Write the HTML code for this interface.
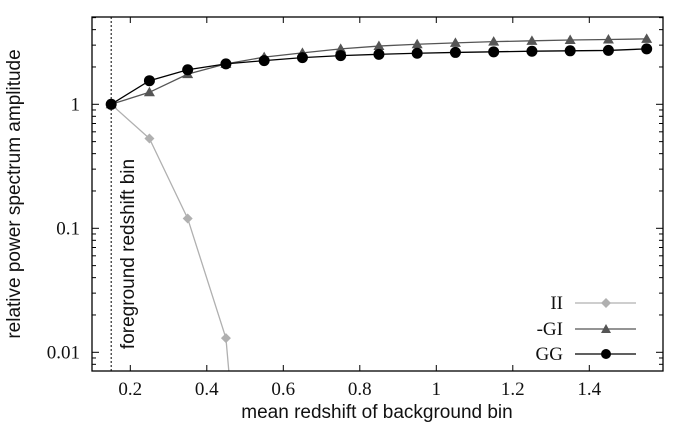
<!DOCTYPE html>
<html><head><meta charset="utf-8"><style>
html,body{margin:0;padding:0;width:673px;height:429px;overflow:hidden;background:#fff}
svg{display:block}
.tick{font-family:"Liberation Serif",serif;font-size:19px;fill:#111}
.lab{font-family:"Liberation Sans",sans-serif;font-size:19px;fill:#111}
</style></head><body>
<svg id="chart" width="673" height="429" viewBox="0 0 673 429" xmlns="http://www.w3.org/2000/svg">
<g id="marks"></g>
<g id="axes"></g>
</svg>
<script>
const zValues=[0.15,0.25,0.35,0.45,0.55,0.65,0.75,0.85,0.95,1.05,1.15,1.25,1.35,1.45,1.55];
const ggValues=[1,1.55,1.9,2.12,2.25,2.38,2.47,2.53,2.58,2.62,2.65,2.68,2.7,2.72,2.8];
const giValues=[1,1.25,1.75,2.12,2.4,2.6,2.8,2.95,3.05,3.13,3.2,3.25,3.3,3.33,3.37];
const iiZ=[0.15,0.25,0.35,0.45,0.55];
const iiValues=[1,0.53,0.12,0.013,0.000004];
const xTicks=[0.2,0.4,0.6,0.8,1,1.2,1.4];
const xTickLabels=["0.2","0.4","0.6","0.8","1","1.2","1.4"];
const yTicks=[0.01,0.1,1];
const yTickLabels=["0.01","0.1","1"];

const L=92,R=663,T=17,B=371;
const xS=z=>130.3+(z-0.2)*382.5;
const yS=v=>104.3-Math.log10(v)*124;
const NS="http://www.w3.org/2000/svg";
function mk(tag,attrs,parent){const e=document.createElementNS(NS,tag);for(const k in attrs)e.setAttribute(k,attrs[k]);parent.appendChild(e);return e;}
const marks=document.getElementById('marks'),axes=document.getElementById('axes');
const clip=mk('clipPath',{id:'c'},marks);mk('rect',{x:L,y:T,width:R-L,height:B-T},clip);
const plot=mk('g',{'clip-path':'url(#c)'},marks);

const fl=mk('line',{x1:xS(0.15),x2:xS(0.15),y1:T,y2:B,stroke:'#000','stroke-width':1,'stroke-dasharray':'2,2'},plot);



function series(zs,vs,color,w,shape,name){
  const g=mk('g',{},plot);
  
  
  mk('polyline',{points:zs.map((z,i)=>xS(z)+','+yS(vs[i])).join(' '),fill:'none',stroke:color,'stroke-width':w},g);
  zs.forEach((z,i)=>{const x=xS(z),y=yS(vs[i]);let m;
    if(shape==='circle')m=mk('circle',{cx:x,cy:y,r:5.5,fill:color},g);
    else if(shape==='tri')m=mk('polygon',{points:`${x},${y-5.5} ${x-5.5},${y+4} ${x+5.5},${y+4}`,fill:color},g);
    else m=mk('polygon',{points:`${x},${y-5} ${x+5},${y} ${x},${y+5} ${x-5},${y}`,fill:color},g);
    
    
  });
}
series(iiZ,iiValues,'#b0b0b0',1.3,'diamond','ii');
series(zValues,giValues,'#555',1.3,'tri','gi');
series(zValues,ggValues,'#000',1.3,'circle','gg');

mk('rect',{x:L,y:T,width:R-L,height:B-T,fill:'none',stroke:'#000','stroke-width':1.3},axes);
xTicks.forEach((t,i)=>{const x=xS(t);
  mk('line',{x1:x,x2:x,y1:B,y2:B-6,stroke:'#000'},axes);
  mk('line',{x1:x,x2:x,y1:T,y2:T+6,stroke:'#000'},axes);
  const tx=mk('text',{x:x,y:395,'text-anchor':'middle',class:'tick'},axes);tx.textContent=xTickLabels[i];
  
  
});
for(let d=-3;d<=0;d++){for(let m=1;m<10;m++){const v=m*Math.pow(10,d);const y=yS(v);if(y<T||y>B)continue;const len=m===1?7:4;
  mk('line',{x1:L,x2:L+len,y1:y,y2:y,stroke:'#000'},axes);mk('line',{x1:R,x2:R-len,y1:y,y2:y,stroke:'#000'},axes);}}
yTicks.forEach((t,i)=>{const tx=mk('text',{x:L-12,y:yS(t)+6,'text-anchor':'end',class:'tick'},axes);tx.textContent=yTickLabels[i];
  
  
});
let t=mk('text',{x:377,y:418,'text-anchor':'middle',class:'lab'},axes);t.textContent='mean redshift of background bin';


t=mk('text',{x:0,y:0,'text-anchor':'middle',class:'lab',transform:'translate(20,194) rotate(-90)'},axes);t.textContent='relative power spectrum amplitude';


t=mk('text',{x:0,y:0,'text-anchor':'middle',class:'lab',transform:'translate(134,254) rotate(-90)'},axes);t.textContent='foreground redshift bin';



const leg=[['II','#b0b0b0','diamond',303],['-GI','#555','tri',329],['GG','#000','circle',354]];
leg.forEach(([n,c,s,y])=>{const g=mk('g',{},axes);
  
  
  const tx=mk('text',{x:563,y:y+6,'text-anchor':'end',class:'tick'},g);tx.textContent=n;
  mk('line',{x1:575,x2:636,y1:y,y2:y,stroke:c,'stroke-width':1.3},g);
  const x=606;
  if(s==='circle')mk('circle',{cx:x,cy:y,r:5,fill:c},g);
  else if(s==='tri')mk('polygon',{points:`${x},${y-5} ${x-5},${y+4} ${x+5},${y+4}`,fill:c},g);
  else mk('polygon',{points:`${x},${y-5} ${x+5},${y} ${x},${y+5} ${x-5},${y}`,fill:c},g);
});
</script>
</body></html>
